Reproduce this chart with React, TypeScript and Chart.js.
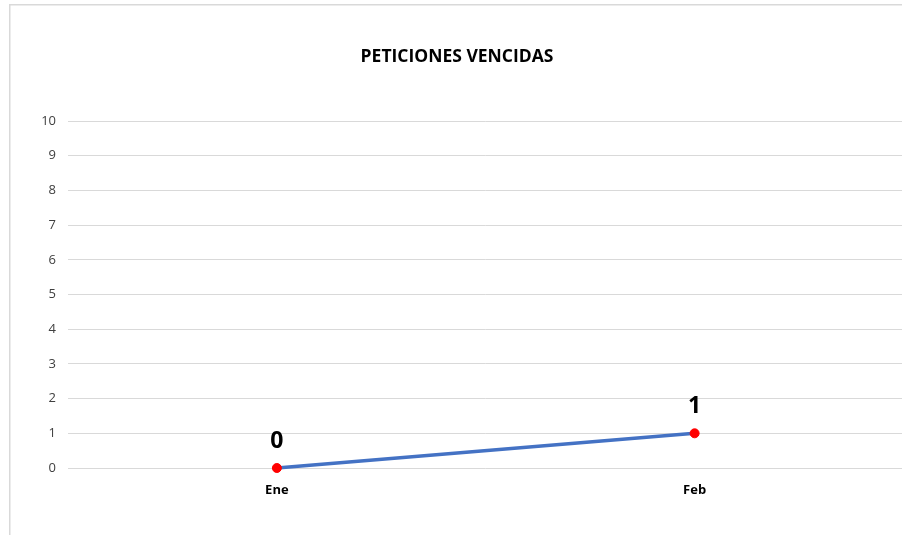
import React, { useEffect, useRef } from "react";
import { Chart, registerables } from "chart.js";

Chart.register(...registerables);

const chartTitle = "PETICIONES VENCIDAS";
const categories = ["Ene", "Feb"];
const values = [0, 1];
const yMin = 0;
const yMax = 10;
const yStep = 1;

const FONT = "'Open Sans', 'Noto Sans', sans-serif";

const borderPlugin = {
  id: "outerBorder",
  beforeDraw(chart: any) {
    const ctx = chart.ctx;
    ctx.save();
    ctx.fillStyle = "#ffffff";
    ctx.fillRect(0, 0, chart.width, chart.height);
    ctx.strokeStyle = "#d9d9d9";
    ctx.lineWidth = 1.5;
    ctx.strokeRect(9.75, 4.75, 2000, 2000);
    ctx.fillStyle = "#000000";
    ctx.font = `bold 17.5px ${FONT}`;
    ctx.textAlign = "center";
    ctx.textBaseline = "middle";
    ctx.fillText(chartTitle, 457, 57);
    ctx.restore();
  },
};

const dataLabelPlugin = {
  id: "dataLabels",
  afterDatasetsDraw(chart: any) {
    const ctx = chart.ctx;
    const meta = chart.getDatasetMeta(0);
    const ds = chart.data.datasets[0];
    ctx.save();
    ctx.fillStyle = "#000000";
    ctx.font = `bold 23px ${FONT}`;
    ctx.textAlign = "center";
    ctx.textBaseline = "middle";
    meta.data.forEach((pt: any, i: number) => {
      ctx.fillText(String(ds.data[i]), pt.x, pt.y - 27);
    });
    ctx.restore();
  },
};

export default function App() {
  const ref = useRef<HTMLCanvasElement | null>(null);
  useEffect(() => {
    if (!ref.current) return;
    const chart = new Chart(ref.current, {
      type: "line",
      data: {
        labels: categories,
        datasets: [
          {
            data: values,
            borderColor: "#4472C4",
            borderWidth: 3.5,
            pointBackgroundColor: "#ff0000",
            pointBorderColor: "#ff0000",
            pointRadius: 4.5,
            pointBorderWidth: 1,
            tension: 0,
            clip: false,
          } as any,
        ],
      },
      options: {
        animation: false,
        responsive: false,
        maintainAspectRatio: false,
        layout: { padding: { left: 0, right: 0, top: 121, bottom: 0 } },
        plugins: {
          legend: { display: false },
          tooltip: { enabled: false },
          title: { display: false },
        },
        scales: {
          x: {
            type: "category",
            offset: true,
            grid: { display: false, drawTicks: false },
            border: { display: false },
            ticks: {
              color: "#000000",
              font: { family: FONT, size: 13, weight: "bold" },
              padding: 14,
            },
            afterFit(scale: any) {
              scale.height = 67;
            },
          },
          y: {
            min: yMin,
            max: yMax,
            grid: { color: "#d9d9d9", lineWidth: 1, drawTicks: false },
            border: { display: false },
            ticks: {
              stepSize: yStep,
              color: "#404040",
              font: { family: FONT, size: 13 },
              padding: 12,
            },
            afterFit(scale: any) {
              scale.width = 68;
            },
          },
        },
      },
      plugins: [borderPlugin, dataLabelPlugin],
    });
    return () => chart.destroy();
  }, []);
  return (
    <div
      style={{
        position: "fixed",
        left: 0,
        top: 0,
        width: 902,
        height: 535,
        overflow: "hidden",
        background: "#fff",
      }}
    >
      <canvas ref={ref} width={909} height={535} style={{ display: "block" }} />
    </div>
  );
}
